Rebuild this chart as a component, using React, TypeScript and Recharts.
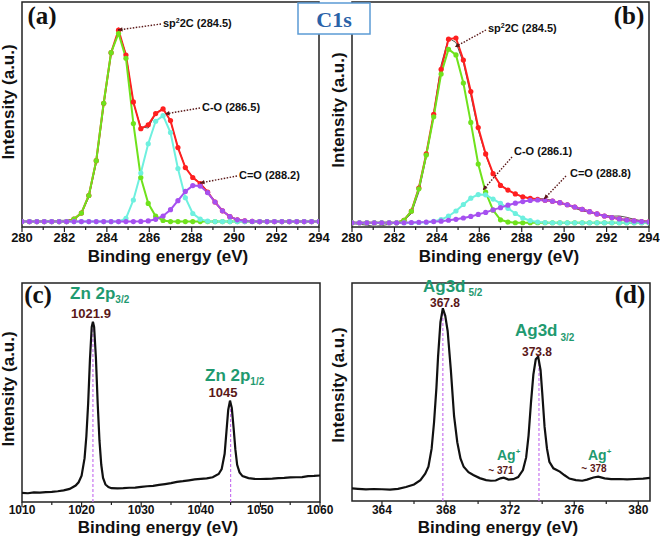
import { LineChart, Line, XAxis, YAxis, ReferenceArea, ReferenceLine } from "recharts";

// ---- C1s panels (a) and (b): shared energy grid ----
const c1sX = [280, 280.35, 280.7, 281.05, 281.4, 281.75, 282.1, 282.45, 282.8, 283.15, 283.5, 283.85, 284.2, 284.55, 284.9, 285.25, 285.6, 285.95, 286.3, 286.65, 287, 287.35, 287.7, 288.05, 288.4, 288.75, 289.1, 289.45, 289.8, 290.15, 290.5, 290.85, 291.2, 291.55, 291.9, 292.25, 292.6, 292.95, 293.3, 293.65, 294];

// (a)
const rawA = [2.6, 2.5, 2.7, 2.6, 2.8, 2.9, 3.0, 3.6, 6.0, 13.2, 28.5, 54, 77, 87, 76.8, 55, 44.5, 44, 50.5, 52.8, 47, 35.5, 26.5, 22.2, 19.5, 15.8, 11.3, 7.3, 4.8, 3.3, 2.8, 2.6, 2.5, 2.5, 2.4, 2.5, 2.4, 2.4, 2.5, 2.4, 2.4];
const redA = [2.4, 2.4, 2.4, 2.4, 2.4, 2.4, 2.4, 3.5, 6.2, 14, 29.5, 55, 77.5, 87.5, 76.4, 55.6, 43.7, 45.4, 50.4, 52.5, 47.3, 35.3, 26.4, 22, 19.3, 15.5, 11.1, 7.2, 4.6, 3.2, 2.7, 2.5, 2.4, 2.4, 2.4, 2.4, 2.4, 2.4, 2.4, 2.4, 2.4];
const greenA = [2.4, 2.4, 2.4, 2.4, 2.4, 2.4, 2.4, 3.5, 6.2, 14, 29.5, 55, 77.5, 86, 75, 46, 22, 10.5, 4.8, 2.9, 2.4, 2.4, 2.4, 2.4, 2.4, 2.4, 2.4, 2.4, 2.4, 2.4, 2.4, 2.4, 2.4, 2.4, 2.4, 2.4, 2.4, 2.4, 2.4, 2.4, 2.4];
const cyanA = [2.4, 2.4, 2.4, 2.4, 2.4, 2.4, 2.4, 2.4, 2.4, 2.4, 2.4, 2.4, 2.4, 2.4, 3.8, 12, 24, 37, 47, 49.5, 42, 26, 13, 6, 3.5, 2.6, 2.4, 2.4, 2.4, 2.4, 2.4, 2.4, 2.4, 2.4, 2.4, 2.4, 2.4, 2.4, 2.4, 2.4, 2.4];
const purpleA = [2.4, 2.4, 2.4, 2.4, 2.4, 2.4, 2.4, 2.4, 2.4, 2.4, 2.4, 2.4, 2.4, 2.4, 2.4, 2.4, 2.5, 2.7, 3.4, 4.9, 7.7, 11.7, 15.8, 18.4, 18.2, 15.3, 11.1, 7.2, 4.6, 3.2, 2.7, 2.5, 2.4, 2.4, 2.4, 2.4, 2.4, 2.4, 2.4, 2.4, 2.4];

// (b)
const rawB = [1.5, 1.2, 0.8, 0.3, 0.6, 1.2, 1.8, 2.8, 6, 15.5, 31, 50.5, 72, 84, 82, 73, 58.5, 43, 32, 23.5, 18.8, 16.5, 14.5, 13.4, 12.8, 12.6, 12.5, 11.8, 10.5, 9.8, 8.3, 7.2, 6.5, 5.8, 5.2, 4.8, 4.9, 4.3, 3.4, 2.8, 2.6];
const redB = [1.9, 1.9, 1.9, 1.9, 1.9, 1.9, 1.9, 3, 7.1, 17.3, 32.5, 50.1, 70.1, 83.5, 84, 74.2, 60.2, 44.2, 32.5, 23.7, 18.5, 16.4, 14.7, 13.4, 12.7, 12.3, 11.9, 11.5, 10.8, 9.9, 8.9, 7.9, 6.8, 5.8, 4.9, 4.2, 3.6, 3.1, 2.7, 2.4, 2.25];
const greenB = [1.9, 1.9, 1.9, 1.9, 1.9, 1.9, 1.9, 3, 7, 17, 32, 49, 68, 79, 76.5, 64, 46.5, 28, 15.5, 7.5, 3.2, 2.2, 1.9, 1.9, 1.9, 1.9, 1.9, 1.9, 1.9, 1.9, 1.9, 1.9, 1.9, 1.9, 1.9, 1.9, 1.9, 1.9, 1.9, 1.9, 1.9];
const cyanB = [1.9, 1.9, 1.9, 1.9, 1.9, 1.9, 1.9, 1.9, 1.9, 2.0, 2.1, 2.5, 3.3, 4.8, 7.1, 10, 12.8, 14.4, 14.3, 12.4, 10.5, 8.3, 6, 4, 2.8, 2.2, 2.0, 1.9, 1.9, 1.9, 1.9, 1.9, 1.9, 1.9, 1.9, 1.9, 1.9, 1.9, 1.9, 1.9, 1.9];
const purpleB = [1.9, 1.9, 1.9, 1.9, 1.9, 1.9, 1.9, 1.9, 2.0, 2.1, 2.2, 2.4, 2.6, 3.0, 3.4, 4.0, 4.7, 5.6, 6.5, 7.6, 8.6, 9.7, 10.6, 11.3, 11.8, 12.0, 11.9, 11.5, 10.8, 9.9, 8.9, 7.9, 6.8, 5.8, 4.9, 4.2, 3.6, 3.1, 2.7, 2.4, 2.25];

// (c) Zn 2p
const znX = [1010, 1011, 1012, 1013, 1014, 1015, 1016, 1017, 1018, 1019, 1019.5, 1020, 1020.5, 1020.8, 1021.1, 1021.4, 1021.7, 1021.9, 1022.1, 1022.4, 1022.7, 1023, 1023.3, 1023.6, 1024, 1024.5, 1025, 1026, 1027, 1028, 1029, 1030, 1031, 1032, 1033, 1034, 1035, 1036, 1037, 1038, 1039, 1040, 1041, 1042, 1043, 1043.5, 1044, 1044.3, 1044.6, 1044.9, 1045.2, 1045.5, 1045.8, 1046.1, 1046.5, 1047, 1048, 1049, 1050, 1051, 1052, 1053, 1054, 1055, 1056, 1057, 1058, 1059, 1060];
const znY = [4.2, 4.0, 4.4, 4.3, 4.5, 4.6, 4.9, 5.3, 6.0, 7.5, 9, 12, 20, 30, 45, 65, 80, 82.3, 80, 66, 45, 28, 17, 11, 8, 6.8, 6.3, 6.2, 6.3, 6.5, 6.6, 6.9, 7.2, 7.4, 7.8, 8.2, 8.6, 9.2, 9.5, 9.9, 10.3, 10.6, 10.8, 11.3, 12.8, 15, 22, 32, 42, 46.3, 43, 34, 24, 17, 13.5, 11.8, 10.9, 10.6, 10.5, 10.6, 10.7, 10.9, 11, 11.2, 11.3, 11.4, 11.8, 11.9, 12.1];
const znPeaks = [1021.9, 1045];
const znPeakTops = [81, 45];

// (d) Ag 3d
const agX = [362.13, 362.5, 363, 363.5, 364, 364.5, 365, 365.5, 366, 366.4, 366.7, 366.9, 367.1, 367.25, 367.4, 367.5, 367.65, 367.8, 367.95, 368.1, 368.3, 368.5, 368.7, 368.9, 369.1, 369.4, 369.7, 370.1, 370.5, 370.8, 371.1, 371.4, 371.6, 371.9, 372.2, 372.5, 372.8, 373, 373.15, 373.3, 373.45, 373.6, 373.75, 373.9, 374, 374.15, 374.3, 374.45, 374.7, 375.1, 375.4, 375.7, 376.1, 376.5, 376.8, 377.2, 377.5, 377.9, 378.3, 378.8, 379.3, 379.8, 380.3, 380.73];
const agY = [5.8, 5.6, 5.3, 5.5, 5.4, 5.2, 5.6, 6.4, 7.6, 9.6, 12.5, 15.7, 24, 36, 52, 66, 82, 88.4, 85, 78, 60, 39, 27, 19.5, 15.7, 13.2, 11.9, 10.5, 9.6, 9.3, 9.4, 10.4, 10.7, 9.8, 10, 11, 14.2, 20, 30, 45, 58, 65, 66.2, 60, 50, 34, 24, 18, 15, 13.5, 11.8, 10.3, 9.6, 9.3, 9.8, 10.8, 11.2, 10.4, 10, 10.1, 9.9, 10.1, 10.3, 10.6];
const agPeaks = [367.8, 373.8];
const agPeakTops = [87, 64];

const c1sTicks = [280, 281, 282, 283, 284, 285, 286, 287, 288, 289, 290, 291, 292, 293, 294];
const znTicks = [1010, 1015, 1020, 1025, 1030, 1035, 1040, 1045, 1050, 1055, 1060];
const agTicks = [364, 366, 368, 370, 372, 374, 376, 378, 380];

const RED = "#ff1f1f";
const GREEN = "#6fe21c";
const CYAN = "#6ef0df";
const PURPLE = "#a650f0";
const DASH = "#c875f0";
const BORDER = "#222";
const SANS = "'Liberation Sans', Arial, sans-serif";
const SERIF = "'Liberation Serif', 'Times New Roman', serif";
const TEAL = "#1f9a70";
const MAROON = "#5a1818";

const dataA = c1sX.map((x, i) => ({ x, raw: rawA[i], red: redA[i], green: greenA[i], cyan: cyanA[i], purple: purpleA[i] }));
const dataB = c1sX.map((x, i) => ({ x, raw: rawB[i], red: redB[i], green: greenB[i], cyan: cyanB[i], purple: purpleB[i] }));
const dataC = znX.map((x, i) => ({ x, y: znY[i] }));
const dataD = agX.map((x, i) => ({ x, y: agY[i] }));

function makeTick(isMajor: (v: number) => boolean, fontSize: number, offset: number) {
  return (props: any) => {
    const { x, y, payload } = props;
    const major = isMajor(payload.value);
    return (
      <g>
        <line x1={x} x2={x} y1={y} y2={y + (major ? 5 : 3)} stroke={BORDER} strokeWidth={1.2} />
        {major && (
          <text x={x} y={y + offset} textAnchor="middle" fontFamily={SANS} fontWeight="bold" fontSize={fontSize} fill="#111">
            {payload.value}
          </text>
        )}
      </g>
    );
  };
}

const seriesDot = (c: string) => ({ r: 2.6, fill: c, stroke: c, strokeWidth: 0 });

function C1sPanel({ data }: { data: any[] }) {
  return (
    <LineChart width={330} height={270} data={data} margin={{ top: 2, right: 11, left: 22, bottom: 0 }}>
      <XAxis dataKey="x" type="number" domain={[280, 294]} allowDataOverflow ticks={c1sTicks} interval={0}
        height={43} axisLine={false} tickLine={false} tickSize={0} tickMargin={0}
        tick={makeTick((v) => v % 2 === 0, 13, 15)} />
      <YAxis hide domain={[0, 100]} allowDataOverflow />
      <Line dataKey="raw" stroke="#555" strokeWidth={1} dot={false} isAnimationActive={false} />
      <Line dataKey="red" stroke={RED} strokeWidth={2} dot={seriesDot(RED)} isAnimationActive={false} />
      <Line dataKey="green" stroke={GREEN} strokeWidth={2} dot={seriesDot(GREEN)} isAnimationActive={false} />
      <Line dataKey="cyan" stroke={CYAN} strokeWidth={2} dot={seriesDot(CYAN)} isAnimationActive={false} />
      <Line dataKey="purple" stroke={PURPLE} strokeWidth={2} dot={seriesDot(PURPLE)} isAnimationActive={false} />
      <ReferenceArea x1={280} x2={294} y1={0} y2={100} fill="none" stroke={BORDER} strokeWidth={1.5} ifOverflow="visible" />
    </LineChart>
  );
}

function Arrow({ x1, y1, x2, y2 }: { x1: number; y1: number; x2: number; y2: number }) {
  const a = Math.atan2(y2 - y1, x2 - x1);
  const h = 5;
  const p1 = [x2 - h * Math.cos(a - 0.45), y2 - h * Math.sin(a - 0.45)];
  const p2 = [x2 - h * Math.cos(a + 0.45), y2 - h * Math.sin(a + 0.45)];
  return (
    <g>
      <line x1={x1} y1={y1} x2={x2} y2={y2} stroke={MAROON} strokeWidth={1.4} strokeDasharray="1.5 1.5" />
      <polygon points={`${x2},${y2} ${p1[0]},${p1[1]} ${p2[0]},${p2[1]}`} fill={MAROON} />
    </g>
  );
}

function PeakTag({ x, y, text }: { x: number; y: number; text: string }) {
  return (
    <text x={x} y={y} fontFamily={SANS} fontWeight="bold" fontSize={11} fill="#111">
      {text.startsWith("sp") ? (<>sp<tspan dy={-4} fontSize={7}>2</tspan><tspan dy={4}>{text.slice(2)}</tspan></>) : text}
    </text>
  );
}

export default function App() {
  const yTitle = (x: number, y: number) => (
    <text x={x} y={y} transform={`rotate(-90 ${x} ${y})`} textAnchor="middle" fontFamily={SANS} fontWeight="bold" fontSize={17} fill="#111">
      Intensity (a.u.)
    </text>
  );
  const xTitle = (x: number, y: number) => (
    <text x={x} y={y} textAnchor="middle" fontFamily={SANS} fontWeight="bold" fontSize={17} fill="#111">
      Binding energy (eV)
    </text>
  );
  const panelTag = (x: number, y: number, t: string) => (
    <text x={x} y={y} textAnchor="middle" fontFamily={SERIF} fontWeight="bold" fontSize={25} fill="#111">{t}</text>
  );

  return (
    <div style={{ position: "absolute", left: 0, top: 0, width: 661, height: 541, background: "#fff" }}>
      <div style={{ position: "absolute", left: 0, top: 0 }}>
        <C1sPanel data={dataA} />
      </div>
      <div style={{ position: "absolute", left: 330, top: 0 }}>
        <C1sPanel data={dataB} />
      </div>
      <div style={{ position: "absolute", left: 0, top: 270 }}>
        <LineChart width={345} height={271} data={dataC} margin={{ top: 13, right: 25, left: 22, bottom: 0 }}>
          <XAxis dataKey="x" type="number" domain={[1010, 1060]} allowDataOverflow ticks={znTicks} interval={0}
            height={39} axisLine={false} tickLine={false} tickSize={0} tickMargin={0}
            tick={makeTick((v) => v % 10 === 0, 12, 12)} />
          <YAxis hide domain={[0, 100]} allowDataOverflow />
          {znPeaks.map((p, i) => (
            <ReferenceLine key={p} segment={[{ x: p, y: 0 }, { x: p, y: znPeakTops[i] }]} stroke={DASH} strokeWidth={1.2} strokeDasharray="3 2" />
          ))}
          <Line dataKey="y" stroke="#111" strokeWidth={2.2} dot={false} isAnimationActive={false} />
          <ReferenceArea x1={1010} x2={1060} y1={0} y2={100} fill="none" stroke={BORDER} strokeWidth={1.5} ifOverflow="visible" />
        </LineChart>
      </div>
      <div style={{ position: "absolute", left: 330, top: 270 }}>
        <LineChart width={331} height={271} data={dataD} margin={{ top: 13, right: 11, left: 22, bottom: 0 }}>
          <XAxis dataKey="x" type="number" domain={[362.13, 380.73]} allowDataOverflow ticks={agTicks} interval={0}
            height={40} axisLine={false} tickLine={false} tickSize={0} tickMargin={0}
            tick={makeTick((v) => v % 4 === 0, 12, 13)} />
          <YAxis hide domain={[0, 100]} allowDataOverflow />
          {agPeaks.map((p, i) => (
            <ReferenceLine key={p} segment={[{ x: p, y: 0 }, { x: p, y: agPeakTops[i] }]} stroke={DASH} strokeWidth={1.2} strokeDasharray="3 2" />
          ))}
          <Line dataKey="y" stroke="#111" strokeWidth={2.2} dot={false} isAnimationActive={false} />
          <ReferenceArea x1={362.13} x2={380.73} y1={0} y2={100} fill="none" stroke={BORDER} strokeWidth={1.5} ifOverflow="visible" />
        </LineChart>
      </div>

      <svg width={661} height={541} style={{ position: "absolute", left: 0, top: 0, pointerEvents: "none" }}>
        {yTitle(14, 102)}
        {yTitle(344, 110)}
        {yTitle(14, 389)}
        {yTitle(344, 385)}
        {xTitle(168, 262)}
        {xTitle(499, 262)}
        {xTitle(158, 533)}
        {xTitle(498, 533)}
        {panelTag(42, 24, "(a)")}
        {panelTag(629, 24, "(b)")}
        {panelTag(38, 303, "(c)")}
        {panelTag(630, 303, "(d)")}

        {/* C1s box */}
        <rect x={298} y={3} width={72} height={31} fill="#fff" stroke="#5b9bd5" strokeWidth={1.5} />
        <text x={334} y={27} textAnchor="middle" fontFamily={SERIF} fontWeight="bold" fontSize={22} fill="#2a62a8">C1s</text>

        {/* (a) annotations */}
        <Arrow x1={161} y1={24} x2={118} y2={30} />
        <PeakTag x={163} y={27} text="sp2C (284.5)" />
        <Arrow x1={200} y1={108} x2={165} y2={114} />
        <PeakTag x={202} y={111} text="C-O (286.5)" />
        <Arrow x1={237} y1={176} x2={200} y2={183} />
        <PeakTag x={239} y={179} text="C=O (288.2)" />

        {/* (b) annotations */}
        <Arrow x1={486} y1={30} x2={455} y2={47} />
        <PeakTag x={488} y={32} text="sp2C (284.5)" />
        <Arrow x1={512} y1={157} x2={483} y2={190} />
        <PeakTag x={514} y={155} text="C-O (286.1)" />
        <Arrow x1={566} y1={176} x2={544} y2={199} />
        <PeakTag x={570} y={177} text="C=O (288.8)" />

        {/* (c) annotations */}
        <text x={70} y={299} fontFamily={SANS} fontWeight="bold" fontSize={17} fill={TEAL}>
          Zn 2p<tspan dy={4} fontSize={10}>3/2</tspan>
        </text>
        <text x={91} y={318} textAnchor="middle" fontFamily={SANS} fontWeight="bold" fontSize={13} fill={MAROON}>1021.9</text>
        <text x={205} y={381} fontFamily={SANS} fontWeight="bold" fontSize={17} fill={TEAL}>
          Zn 2p<tspan dy={4} fontSize={10}>1/2</tspan>
        </text>
        <text x={223} y={397} textAnchor="middle" fontFamily={SANS} fontWeight="bold" fontSize={13} fill={MAROON}>1045</text>

        {/* (d) annotations */}
        <text x={423} y={292} fontFamily={SANS} fontWeight="bold" fontSize={17} fill={TEAL}>
          Ag3d<tspan dx={3} dy={4} fontSize={10}>5/2</tspan>
        </text>
        <text x={445} y={307} textAnchor="middle" fontFamily={SANS} fontWeight="bold" fontSize={12} fill={MAROON}>367.8</text>
        <text x={515} y={336} fontFamily={SANS} fontWeight="bold" fontSize={17} fill={TEAL}>
          Ag3d<tspan dx={3} dy={5} fontSize={10}>3/2</tspan>
        </text>
        <text x={537} y={356} textAnchor="middle" fontFamily={SANS} fontWeight="bold" fontSize={12} fill={MAROON}>373.8</text>
        <text x={497} y={460} fontFamily={SANS} fontWeight="bold" fontSize={14} fill={TEAL}>
          Ag<tspan dy={-6} fontSize={8}>+</tspan>
        </text>
        <text x={501} y={474} textAnchor="middle" fontFamily={SANS} fontWeight="bold" fontSize={10} fill={MAROON}>~ 371</text>
        <text x={588} y={460} fontFamily={SANS} fontWeight="bold" fontSize={14} fill={TEAL}>
          Ag<tspan dy={-6} fontSize={8}>+</tspan>
        </text>
        <text x={594} y={472} textAnchor="middle" fontFamily={SANS} fontWeight="bold" fontSize={10} fill={MAROON}>~ 378</text>
      </svg>
    </div>
  );
}
